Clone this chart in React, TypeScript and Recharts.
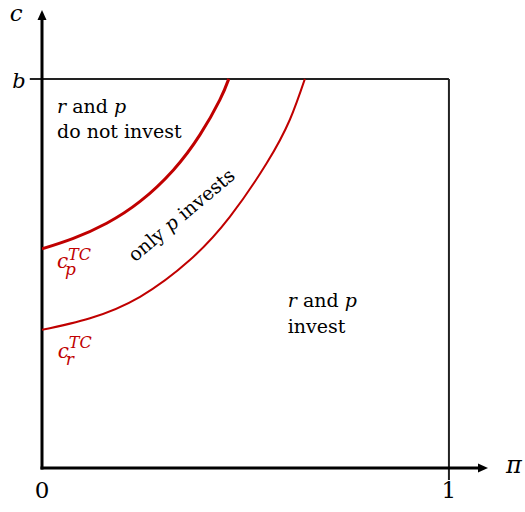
import { LineChart, Line, XAxis, YAxis, ReferenceLine, ReferenceDot } from "recharts";

// threshold curves c_p^TC and c_r^TC over pi in [0, 1], c scaled so that b = 1
const upperPi = [0, 0.077, 0.159, 0.241, 0.323, 0.388, 0.437, 0.459];
const upperC = [0.563, 0.59, 0.629, 0.685, 0.766, 0.856, 0.946, 1.0];
const lowerPi = [0, 0.118, 0.241, 0.364, 0.462, 0.552, 0.609, 0.646];
const lowerC = [0.355, 0.385, 0.44, 0.535, 0.646, 0.783, 0.895, 1.0];

const xTicks = [0, 1];
const xTickLabels = ["0", "1"];
const bLevel = 1;

const upperData = upperPi.map((pi, i) => ({ pi, c: upperC[i] }));
const lowerData = lowerPi.map((pi, i) => ({ pi, c: lowerC[i] }));

const FONT = "'DejaVu Serif', serif";
const RED = "#c00000";

// axis line with an arrowhead at its far end
const arrowShape = (p: any) => {
  const { x1, y1, x2, y2 } = p;
  const ang = Math.atan2(y2 - y1, x2 - x1);
  const len = 10;
  const half = 4.5;
  const bx = x2 - len * Math.cos(ang);
  const by = y2 - len * Math.sin(ang);
  const nx = -Math.sin(ang) * half;
  const ny = Math.cos(ang) * half;
  return (
    <g>
      <line x1={x1} y1={y1} x2={bx} y2={by} stroke="#000" strokeWidth={3} strokeLinecap="square" />
      <polygon points={`${x2},${y2} ${bx + nx},${by + ny} ${bx - nx},${by - ny}`} fill="#000" />
    </g>
  );
};

const textAt = (key: string, x: number, y: number, content: React.ReactNode) => (
  <ReferenceDot
    key={key}
    x={x}
    y={y}
    r={0}
    ifOverflow="visible"
    shape={(p: any) => <g transform={`translate(${p.cx},${p.cy})`}>{content}</g>}
  />
);

// c with superscript TC and a subscript letter
const thresholdLabel = (sub: string, supDy: number, subDx: number, subDy: number) => (
  <text fontFamily={FONT} fontStyle="italic" fill={RED}>
    <tspan x={0} y={0} fontSize={20}>c</tspan>
    <tspan x={11} dy={supDy} fontSize={16}>TC</tspan>
    <tspan x={subDx} dy={subDy} fontSize={17}>{sub}</tspan>
  </text>
);

export default function App() {
  return (
    <div style={{ position: "absolute", left: 0, top: 0 }}>
      <LineChart width={525} height={512} margin={{ top: 10, right: 37, bottom: 14, left: 42 }}>
        <XAxis
          type="number"
          dataKey="pi"
          domain={[0, 1.096]}
          allowDataOverflow
          ticks={xTicks}
          tickFormatter={(v: number) => xTickLabels[xTicks.indexOf(v)]}
          axisLine={false}
          tickLine={false}
          tickMargin={8}
          height={30}
          tick={{ fill: "#000", fontSize: 23, fontFamily: FONT }}
        />
        <YAxis type="number" dataKey="c" domain={[0, 1.177]} allowDataOverflow hide />

        <ReferenceLine
          segment={[{ x: -0.03, y: bLevel }, { x: 1, y: bLevel }]}
          stroke="#222"
          strokeWidth={2}
          ifOverflow="visible"
        />
        <ReferenceLine
          segment={[{ x: 1, y: -0.031 }, { x: 1, y: bLevel }]}
          stroke="#222"
          strokeWidth={2}
          ifOverflow="visible"
        />
        <ReferenceLine segment={[{ x: 0, y: 0 }, { x: 1.096, y: 0 }]} ifOverflow="visible" shape={arrowShape} />
        <ReferenceLine segment={[{ x: 0, y: 0 }, { x: 0, y: 1.177 }]} ifOverflow="visible" shape={arrowShape} />

        <Line
          data={upperData}
          dataKey="c"
          type="natural"
          stroke={RED}
          strokeWidth={3}
          dot={false}
          isAnimationActive={false}
        />
        <Line
          data={lowerData}
          dataKey="c"
          type="natural"
          stroke={RED}
          strokeWidth={2}
          dot={false}
          isAnimationActive={false}
        />

        {textAt(
          "cAxis",
          -0.079,
          1.148,
          <text x={0} y={0} fontFamily={FONT} fontStyle="italic" fontSize={23} fill="#000">c</text>
        )}
        {textAt(
          "bLabel",
          -0.04,
          bLevel,
          <text x={0} y={9} textAnchor="end" fontFamily={FONT} fontStyle="italic" fontSize={21} fill="#000">b</text>
        )}
        {textAt(
          "piLabel",
          1.14,
          -0.013,
          <text x={0} y={0} fontFamily={FONT} fontStyle="italic" fontSize={24} fill="#000">π</text>
        )}

        {textAt(
          "noInvest",
          0.037,
          0.913,
          <text fontFamily={FONT} fontSize={19} fill="#000">
            <tspan x={0} y={0}>
              <tspan fontStyle="italic">r</tspan>
              {" and "}
              <tspan fontStyle="italic">p</tspan>
            </tspan>
            <tspan x={0} y={25}>do not invest</tspan>
          </text>
        )}
        {textAt(
          "onlyP",
          0.342,
          0.651,
          <text
            transform="rotate(-40)"
            textAnchor="middle"
            dominantBaseline="central"
            fontFamily={FONT}
            fontSize={19}
            fill="#000"
          >
            {"only "}
            <tspan fontStyle="italic">p</tspan>
            {" invests"}
          </text>
        )}
        {textAt(
          "bothInvest",
          0.604,
          0.414,
          <text fontFamily={FONT} fontSize={19} fill="#000">
            <tspan x={0} y={0}>
              <tspan fontStyle="italic">r</tspan>
              {" and "}
              <tspan fontStyle="italic">p</tspan>
            </tspan>
            <tspan x={0} y={26}>invest</tspan>
          </text>
        )}

        {textAt("cpLabel", 0.037, 0.514, thresholdLabel("p", -8, 8, 15))}
        {textAt("crLabel", 0.039, 0.283, thresholdLabel("r", -10, 8, 17))}
      </LineChart>
    </div>
  );
}
